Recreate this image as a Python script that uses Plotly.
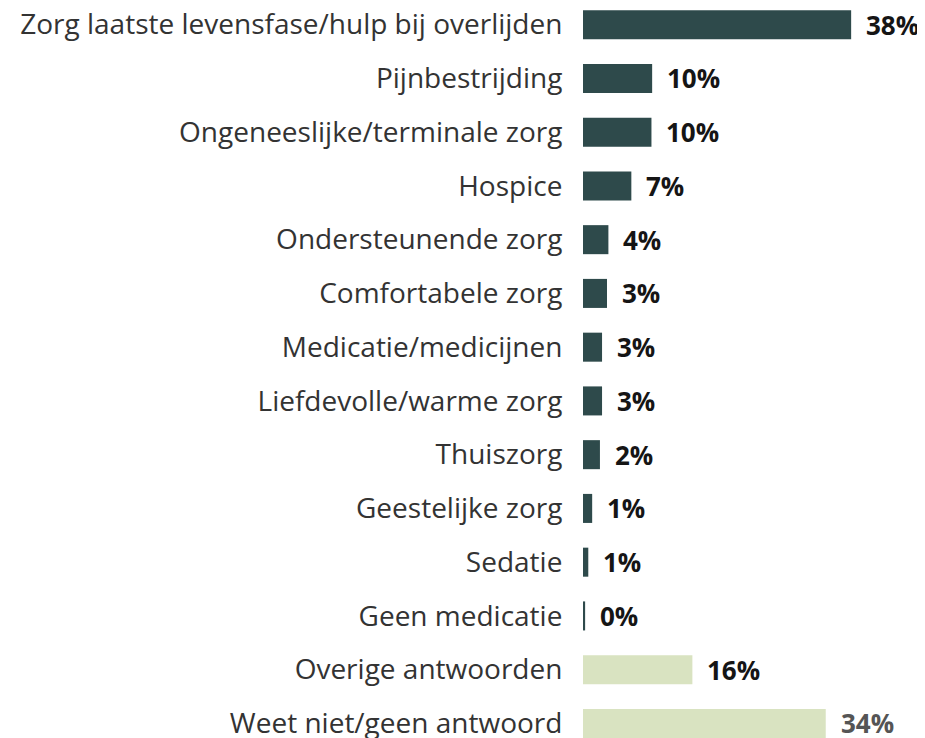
import plotly.graph_objects as go

categories = [
    "Zorg laatste levensfase/hulp bij overlijden",
    "Pijnbestrijding",
    "Ongeneeslijke/terminale zorg",
    "Hospice",
    "Ondersteunende zorg",
    "Comfortabele zorg",
    "Medicatie/medicijnen",
    "Liefdevolle/warme zorg",
    "Thuiszorg",
    "Geestelijke zorg",
    "Sedatie",
    "Geen medicatie",
    "Overige antwoorden",
    "Weet niet/geen antwoord",
]
values = [38.0, 9.8, 9.7, 6.85, 3.6, 3.4, 2.7, 2.7, 2.4, 1.3, 0.75, 0.3, 15.5, 34.4]
labels = ["38%", "10%", "10%", "7%", "4%", "3%", "3%", "3%", "2%", "1%", "1%", "0%", "16%", "34%"]
groups = ["main"] * 12 + ["other"] * 2

DARK = "#2e4a4b"
LIGHT = "#d9e3c1"
bar_colors = [DARK if g == "main" else LIGHT for g in groups]
label_colors = ["#151515"] * 13 + ["#555555"]

FONT = "Open Sans"

fig = go.Figure(
    go.Bar(
        x=values,
        y=categories,
        orientation="h",
        marker=dict(color=bar_colors, line=dict(width=0)),
        hoverinfo="skip",
    )
)

for c, v, t, col in zip(categories, values, labels, label_colors):
    fig.add_annotation(
        x=v, y=c, text="<b>" + t + "</b>", showarrow=False,
        xanchor="left", yanchor="middle", xshift=13,
        font=dict(family=FONT, size=26, color=col),
    )

n = len(categories)
# page has an 8px body margin; compensate so marks land where the reference has them
fig.update_layout(
    width=925, height=738,
    margin=dict(l=575, r=0, t=0, b=0),
    paper_bgcolor="white", plot_bgcolor="white",
    bargap=0.46,
    showlegend=False,
    xaxis=dict(range=[0, 49.6], visible=False, fixedrange=True),
    yaxis=dict(
        range=[13.42, -0.31],
        showgrid=False, zeroline=False, showline=False,
        ticks="outside", ticklen=14, tickcolor="rgba(0,0,0,0)",
        tickfont=dict(family=FONT, size=28, color="#333333"),
        automargin=False,
    ),
)

fig.write_html("out.html")
